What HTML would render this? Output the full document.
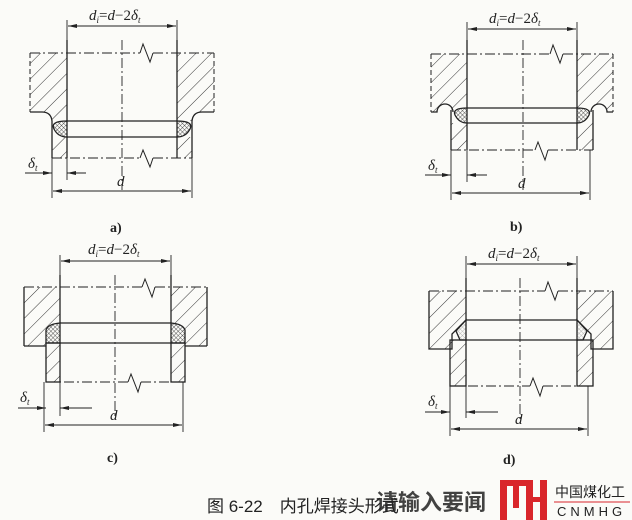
<!DOCTYPE html>
<html><head><meta charset="utf-8"><style>
html,body{margin:0;padding:0;background:#fbfbf8}
svg{display:block}
text{font-family:"Liberation Serif",serif;fill:#222}
</style></head><body>
<svg width="632" height="520" viewBox="0 0 632 520" xmlns="http://www.w3.org/2000/svg">
<defs>
<pattern id="h" patternUnits="userSpaceOnUse" width="11" height="11" patternTransform="rotate(45)"><line x1="0" y1="0" x2="0" y2="11" stroke="#333" stroke-width="1"/></pattern>
<pattern id="x" patternUnits="userSpaceOnUse" width="3" height="3" patternTransform="rotate(45)"><line x1="0" y1="0" x2="0" y2="3" stroke="#333" stroke-width="0.8"/><line x1="0" y1="0" x2="3" y2="0" stroke="#333" stroke-width="0.8"/></pattern>
<marker id="ar" markerWidth="10" markerHeight="6" refX="10" refY="3" orient="auto"><path d="M0,0.8 L10,3 L0,5.2 Z" fill="#222"/></marker>
</defs>
<g stroke="#222" fill="none" stroke-width="1.3">

<!-- ===== Panel a ===== -->
<path d="M30,53 L67,53 L67,121 L52,121 Q51,112 42,112 L30,112 Z" fill="url(#h)" stroke="none"/>
<path d="M214,53 L177,53 L177,121 L192,121 Q193,112 202,112 L214,112 Z" fill="url(#h)" stroke="none"/>
<path d="M67,40 L67,121 M42,112 L30,112 M52,158 L52,121 Q51,112 42,112"/>
<path d="M177,40 L177,121 M202,112 L214,112 M192,158 L192,121 Q193,112 202,112"/>
<path d="M30,53 L30,112 M214,53 L214,112" stroke-dasharray="5,3" stroke-width="1"/>
<rect x="52" y="137" width="15" height="21" fill="url(#h)" stroke="none"/>
<rect x="177" y="137" width="15" height="21" fill="url(#h)" stroke="none"/>
<path d="M67,137 L67,158 M177,137 L177,158"/>
<path d="M67,121 L177,121 M67,137 L177,137"/>
<path d="M67,121 Q50,121 54,129 Q58,137 67,137 Z" fill="url(#x)"/>
<path d="M177,121 Q194,121 190,129 Q186,137 177,137 Z" fill="url(#x)"/>
<path d="M30,53 L140,53 M153,53 L214,53" stroke-dasharray="10,3,2,3" stroke-width="1"/>
<path d="M140,53 L143,44 L150,62 L153,53" stroke-width="1"/>
<path d="M52,158 L140,158 M153,158 L192,158" stroke-dasharray="10,3,2,3" stroke-width="1"/>
<path d="M140,158 L143,150 L150,167 L153,158" stroke-width="1"/>
<line x1="122" y1="40" x2="122" y2="190" stroke-dasharray="10,3,2,3" stroke-width="0.9"/>
<line x1="67" y1="20" x2="67" y2="40" stroke-width="0.9"/><line x1="177" y1="20" x2="177" y2="40" stroke-width="0.9"/>
<line x1="122" y1="26" x2="68" y2="26" stroke-width="0.9" marker-end="url(#ar)"/>
<line x1="122" y1="26" x2="176" y2="26" stroke-width="0.9" marker-end="url(#ar)"/>
<line x1="25" y1="173" x2="52" y2="173" stroke-width="0.9" marker-end="url(#ar)"/>
<line x1="86" y1="173" x2="67" y2="173" stroke-width="0.9" marker-end="url(#ar)"/>
<line x1="67" y1="158" x2="67" y2="180" stroke-width="0.9"/>
<line x1="52" y1="158" x2="52" y2="198" stroke-width="0.9"/><line x1="192" y1="158" x2="192" y2="198" stroke-width="0.9"/>
<line x1="122" y1="191" x2="53" y2="191" stroke-width="0.9" marker-end="url(#ar)"/>
<line x1="122" y1="191" x2="191" y2="191" stroke-width="0.9" marker-end="url(#ar)"/>

<!-- ===== Panel b ===== -->
<path d="M431,54 L467,54 L467,108 L451,108 L451,112 L453,112 A8,8 0 0 0 437,112 L431,112 Z" fill="url(#h)" stroke="none"/>
<path d="M613,54 L577,54 L577,108 L593,108 L593,112 L591,112 A8,8 0 0 1 607,112 L613,112 Z" fill="url(#h)" stroke="none"/>
<path d="M467,40 L467,108 M431,112 L437,112 A8,8 0 0 1 453,112 M451,150 L451,110"/>
<path d="M577,40 L577,108 M613,112 L607,112 A8,8 0 0 0 591,112 M593,150 L593,110"/>
<path d="M431,54 L431,112 M613,54 L613,112" stroke-dasharray="5,3" stroke-width="1"/>
<rect x="451" y="123" width="16" height="27" fill="url(#h)" stroke="none"/>
<rect x="577" y="123" width="16" height="27" fill="url(#h)" stroke="none"/>
<path d="M467,123 L467,150 M577,123 L577,150 M467,108 L577,108 M467,123 L577,123"/>
<path d="M467,108 Q452,108 455,115 Q459,123 467,123 Z" fill="url(#x)"/>
<path d="M577,108 Q592,108 589,115 Q585,123 577,123 Z" fill="url(#x)"/>
<path d="M431,54 L550,54 M563,54 L613,54" stroke-dasharray="10,3,2,3" stroke-width="1"/>
<path d="M550,54 L553,45 L560,63 L563,54" stroke-width="1"/>
<path d="M451,150 L535,150 M548,150 L593,150" stroke-dasharray="10,3,2,3" stroke-width="1"/>
<path d="M535,150 L538,142 L545,160 L548,150" stroke-width="1"/>
<line x1="523" y1="40" x2="523" y2="190" stroke-dasharray="10,3,2,3" stroke-width="0.9"/>
<line x1="467" y1="22" x2="467" y2="40" stroke-width="0.9"/><line x1="577" y1="22" x2="577" y2="40" stroke-width="0.9"/>
<line x1="522" y1="29" x2="468" y2="29" stroke-width="0.9" marker-end="url(#ar)"/>
<line x1="522" y1="29" x2="576" y2="29" stroke-width="0.9" marker-end="url(#ar)"/>
<line x1="425" y1="175" x2="451" y2="175" stroke-width="0.9" marker-end="url(#ar)"/>
<line x1="487" y1="175" x2="467" y2="175" stroke-width="0.9" marker-end="url(#ar)"/>
<line x1="467" y1="150" x2="467" y2="182" stroke-width="0.9"/>
<line x1="451" y1="150" x2="451" y2="200" stroke-width="0.9"/><line x1="590" y1="150" x2="590" y2="200" stroke-width="0.9"/>
<line x1="520" y1="193" x2="452" y2="193" stroke-width="0.9" marker-end="url(#ar)"/>
<line x1="520" y1="193" x2="589" y2="193" stroke-width="0.9" marker-end="url(#ar)"/>

<!-- ===== Panel c ===== -->
<path d="M24,287 L60,287 L60,323 L46,333 L46,346 L24,346 Z" fill="url(#h)" stroke="none"/>
<path d="M207,287 L171,287 L171,323 L185,333 L185,346 L207,346 Z" fill="url(#h)" stroke="none"/>
<path d="M60,275 L60,323 M24,346 L46,346 M171,275 L171,323 M207,346 L185,346 M24,287 L24,346 M207,287 L207,346"/>
<rect x="46" y="343" width="14" height="39" fill="url(#h)" stroke="#222"/>
<rect x="171" y="343" width="14" height="39" fill="url(#h)" stroke="#222"/>
<path d="M60,323 L171,323 M60,343 L171,343"/>
<path d="M60,323 Q48,324 46,330 L46,343 L60,343 Z" fill="url(#x)"/>
<path d="M171,323 Q183,324 185,330 L185,343 L171,343 Z" fill="url(#x)"/>
<path d="M24,287 L142,287 M155,287 L207,287" stroke-dasharray="10,3,2,3" stroke-width="1"/>
<path d="M142,287 L145,279 L152,297 L155,287" stroke-width="1"/>
<path d="M46,382 L128,382 M141,382 L185,382" stroke-dasharray="10,3,2,3" stroke-width="1"/>
<path d="M128,382 L131,374 L138,392 L141,382" stroke-width="1"/>
<line x1="115" y1="275" x2="115" y2="418" stroke-dasharray="10,3,2,3" stroke-width="0.9"/>
<line x1="60" y1="255" x2="60" y2="275" stroke-width="0.9"/><line x1="171" y1="255" x2="171" y2="275" stroke-width="0.9"/>
<line x1="115" y1="261" x2="61" y2="261" stroke-width="0.9" marker-end="url(#ar)"/>
<line x1="115" y1="261" x2="170" y2="261" stroke-width="0.9" marker-end="url(#ar)"/>
<line x1="18" y1="408" x2="46" y2="408" stroke-width="0.9" marker-end="url(#ar)"/>
<line x1="92" y1="408" x2="60" y2="408" stroke-width="0.9" marker-end="url(#ar)"/>
<line x1="60" y1="382" x2="60" y2="416" stroke-width="0.9"/>
<line x1="44" y1="382" x2="44" y2="432" stroke-width="0.9"/><line x1="183" y1="382" x2="183" y2="432" stroke-width="0.9"/>
<line x1="113" y1="425" x2="45" y2="425" stroke-width="0.9" marker-end="url(#ar)"/>
<line x1="113" y1="425" x2="182" y2="425" stroke-width="0.9" marker-end="url(#ar)"/>

<!-- ===== Panel d ===== -->
<path d="M429,291 L466,291 L466,320 L452,334 L452,349 L429,349 Z" fill="url(#h)" stroke="none"/>
<path d="M613,291 L577,291 L577,320 L591,334 L591,349 L613,349 Z" fill="url(#h)" stroke="none"/>
<path d="M466,278 L466,320 L452,334 L452,349 L429,349 L429,291 M577,278 L577,320 L591,334 L591,349 L613,349 L613,291"/>
<rect x="450" y="340" width="16" height="46" fill="url(#h)" stroke="#222"/>
<rect x="577" y="340" width="16" height="46" fill="url(#h)" stroke="#222"/>
<path d="M466,320 L577,320 M466,340 L577,340"/>
<path d="M466,320 L456,331 L460,340 L466,340 Z" fill="url(#x)" fill-opacity="0.4"/>
<path d="M577,320 L587,331 L583,340 L577,340 Z" fill="url(#x)" fill-opacity="0.4"/>
<path d="M429,291 L545,291 M558,291 L613,291" stroke-dasharray="10,3,2,3" stroke-width="1"/>
<path d="M545,291 L548,282 L555,300 L558,291" stroke-width="1"/>
<path d="M450,386 L530,386 M543,386 L593,386" stroke-dasharray="10,3,2,3" stroke-width="1"/>
<path d="M530,386 L533,378 L540,396 L543,386" stroke-width="1"/>
<line x1="520" y1="278" x2="520" y2="420" stroke-dasharray="10,3,2,3" stroke-width="0.9"/>
<line x1="466" y1="256" x2="466" y2="278" stroke-width="0.9"/><line x1="577" y1="256" x2="577" y2="278" stroke-width="0.9"/>
<line x1="521" y1="264" x2="467" y2="264" stroke-width="0.9" marker-end="url(#ar)"/>
<line x1="521" y1="264" x2="576" y2="264" stroke-width="0.9" marker-end="url(#ar)"/>
<line x1="425" y1="412" x2="450" y2="412" stroke-width="0.9" marker-end="url(#ar)"/>
<line x1="498" y1="412" x2="466" y2="412" stroke-width="0.9" marker-end="url(#ar)"/>
<line x1="466" y1="386" x2="466" y2="418" stroke-width="0.9"/>
<line x1="450" y1="386" x2="450" y2="436" stroke-width="0.9"/><line x1="588" y1="386" x2="588" y2="436" stroke-width="0.9"/>
<line x1="519" y1="429" x2="451" y2="429" stroke-width="0.9" marker-end="url(#ar)"/>
<line x1="519" y1="429" x2="587" y2="429" stroke-width="0.9" marker-end="url(#ar)"/>
</g>

<g font-size="15" font-style="italic">
<text x="89" y="20">d<tspan font-size="9" dy="3">i</tspan><tspan dy="-3" font-style="normal">=</tspan>d<tspan font-style="normal">−2</tspan>δ<tspan font-size="9" dy="3">t</tspan></text>
<text x="489" y="23">d<tspan font-size="9" dy="3">i</tspan><tspan dy="-3" font-style="normal">=</tspan>d<tspan font-style="normal">−2</tspan>δ<tspan font-size="9" dy="3">t</tspan></text>
<text x="88" y="254">d<tspan font-size="9" dy="3">i</tspan><tspan dy="-3" font-style="normal">=</tspan>d<tspan font-style="normal">−2</tspan>δ<tspan font-size="9" dy="3">t</tspan></text>
<text x="488" y="258">d<tspan font-size="9" dy="3">i</tspan><tspan dy="-3" font-style="normal">=</tspan>d<tspan font-style="normal">−2</tspan>δ<tspan font-size="9" dy="3">t</tspan></text>
<text x="28" y="168">δ<tspan font-size="9" dy="3">t</tspan></text>
<text x="428" y="170">δ<tspan font-size="9" dy="3">t</tspan></text>
<text x="20" y="402">δ<tspan font-size="9" dy="3">t</tspan></text>
<text x="428" y="406">δ<tspan font-size="9" dy="3">t</tspan></text>
<text x="117" y="186">d</text>
<text x="518" y="188">d</text>
<text x="110" y="420">d</text>
<text x="515" y="424">d</text>
</g>
<g font-size="14" font-weight="bold">
<text x="110" y="232">a)</text>
<text x="510" y="231">b)</text>
<text x="107" y="462">c)</text>
<text x="503" y="464">d)</text>
</g>
<text x="207" y="512" font-size="17" style="font-family:'Liberation Sans','Noto Sans CJK SC',sans-serif" fill="#222">图 6-22　内孔焊接头形式</text>
<text x="376" y="510" font-size="22" font-weight="bold" style="font-family:'Liberation Sans','Noto Sans CJK SC',sans-serif" fill="#444" opacity="0.85">请输入要闻</text>
<g fill="#d9262b">
<rect x="500" y="480" width="7" height="40"/><rect x="500" y="480" width="30" height="6"/><rect x="513" y="480" width="6" height="28"/>
<rect x="526" y="480" width="7" height="40"/><rect x="526" y="497" width="20" height="5"/><rect x="540" y="480" width="7" height="40"/>
</g>
<text x="555" y="497" font-size="14" style="font-family:'Liberation Sans','Noto Sans CJK SC',sans-serif" fill="#333">中国煤化工</text>
<line x1="554" y1="502" x2="630" y2="502" stroke="#d9262b" stroke-width="1"/>
<text x="557" y="516" font-size="13" letter-spacing="4" style="font-family:'Liberation Sans',sans-serif" fill="#333">CNMHG</text>
</svg>
</body></html>
